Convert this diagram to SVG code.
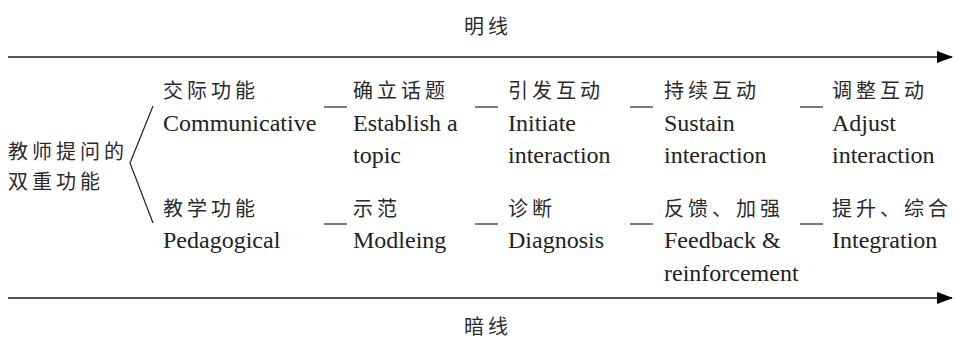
<svg xmlns="http://www.w3.org/2000/svg" width="954" height="341" viewBox="0 0 954 341">
<style>
.zh{font-family:"Noto Sans CJK SC","Noto Sans",sans-serif;font-size:20px;fill:#2a2a2a;letter-spacing:4px}
.en{font-family:"Liberation Serif","Times New Roman",serif;font-size:24px;fill:#222}
.axis{stroke:#555;stroke-width:2;fill:none}
.dash{stroke:#333;stroke-width:1.3;fill:none}
.brace{stroke:#222;stroke-width:1.2;fill:none}
</style>
<defs>
<marker id="ah" markerWidth="16" markerHeight="12" refX="15" refY="6" orient="auto" markerUnits="userSpaceOnUse">
<path d="M0,0 L16,6 L0,12 Z" fill="#000"/>
</marker>
</defs>
<rect width="954" height="341" fill="#fff"/>
<g id="connectors">
<line class="axis" x1="8" y1="57" x2="952" y2="57" marker-end="url(#ah)"/>
<line class="axis" x1="8" y1="298" x2="952" y2="298" marker-end="url(#ah)"/>
<polyline class="brace" points="153,106 130,163 153,223"/>
<line class="dash" x1="324" y1="107" x2="347" y2="107"/>
<line class="dash" x1="475" y1="107" x2="498" y2="107"/>
<line class="dash" x1="630" y1="107" x2="653" y2="107"/>
<line class="dash" x1="800" y1="107" x2="823" y2="107"/>
<line class="dash" x1="324" y1="224" x2="347" y2="224"/>
<line class="dash" x1="475" y1="224" x2="498" y2="224"/>
<line class="dash" x1="630" y1="224" x2="653" y2="224"/>
<line class="dash" x1="800" y1="224" x2="823" y2="224"/>
</g>
<g id="title-top"><text class="zh" x="464" y="34" letter-spacing="2">明线</text></g>
<g id="title-bottom"><text class="zh" x="464" y="334" letter-spacing="2">暗线</text></g>
<g id="root">
<text class="zh" x="8" y="159" letter-spacing="3.5">教师提问的</text>
<text class="zh" x="8" y="189" letter-spacing="3.5">双重功能</text>
</g>
<g id="communicative">
<text class="zh" x="163" y="98">交际功能</text>
<text class="en" x="163" y="131">Communicative</text>
</g>
<g id="establish">
<text class="zh" x="353" y="98">确立话题</text>
<text class="en" x="353" y="131">Establish a</text>
<text class="en" x="353" y="163">topic</text>
</g>
<g id="initiate">
<text class="zh" x="508" y="98">引发互动</text>
<text class="en" x="508" y="131">Initiate</text>
<text class="en" x="508" y="163">interaction</text>
</g>
<g id="sustain">
<text class="zh" x="664" y="98">持续互动</text>
<text class="en" x="664" y="131">Sustain</text>
<text class="en" x="664" y="163">interaction</text>
</g>
<g id="adjust">
<text class="zh" x="832" y="98">调整互动</text>
<text class="en" x="832" y="131">Adjust</text>
<text class="en" x="832" y="163">interaction</text>
</g>
<g id="pedagogical">
<text class="zh" x="163" y="216">教学功能</text>
<text class="en" x="163" y="248">Pedagogical</text>
</g>
<g id="modleing">
<text class="zh" x="353" y="216">示范</text>
<text class="en" x="353" y="248">Modleing</text>
</g>
<g id="diagnosis">
<text class="zh" x="508" y="216">诊断</text>
<text class="en" x="508" y="248">Diagnosis</text>
</g>
<g id="feedback">
<text class="zh" x="664" y="216">反馈、加强</text>
<text class="en" x="664" y="248">Feedback &amp;</text>
<text class="en" x="664" y="281">reinforcement</text>
</g>
<g id="integration">
<text class="zh" x="832" y="216">提升、综合</text>
<text class="en" x="832" y="248">Integration</text>
</g>
</svg>
